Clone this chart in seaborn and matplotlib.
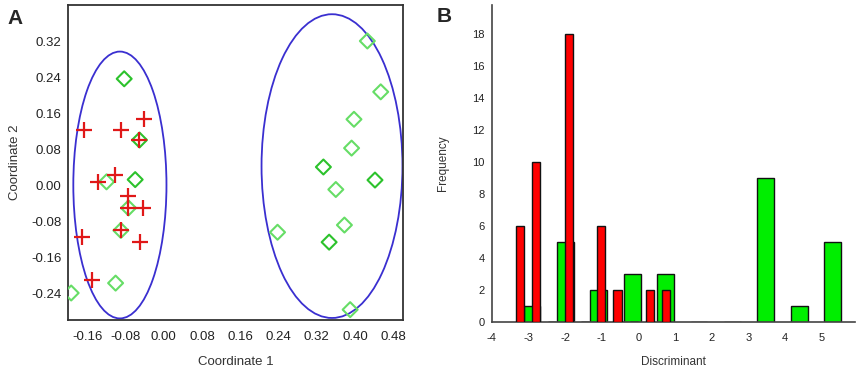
import numpy as np
import pandas as pd
import matplotlib
matplotlib.use("Agg")
import matplotlib.pyplot as plt
from matplotlib.patches import Ellipse
import seaborn as sns

# ---------------- Data: panel A (PCoA) ----------------
red_x = [-0.168, -0.090, -0.041, -0.051, -0.138, -0.102, -0.074, -0.074, -0.043, -0.090, -0.050, -0.172, -0.150]
red_y = [0.123, 0.123, 0.146, 0.100, 0.007, 0.022, -0.025, -0.051, -0.051, -0.101, -0.127, -0.115, -0.210]

green_x = [-0.083, -0.051, -0.060, -0.120, -0.074, -0.090, -0.101, -0.194,
           0.426, 0.454, 0.398, 0.393, 0.334, 0.442, 0.360, 0.378, 0.346, 0.238, 0.390]
green_y = [0.236, 0.100, 0.012, 0.007, -0.051, -0.101, -0.218, -0.240,
           0.320, 0.207, 0.146, 0.082, 0.040, 0.011, -0.010, -0.089, -0.127, -0.105, -0.277]
green_shade = ["dark", "dark", "dark", "light", "light", "light", "light", "light",
               "light", "light", "light", "light", "dark", "dark", "light", "light", "dark", "light", "light"]

# ellipses: centre x, centre y, width, height
ell_cx = [-0.092, 0.352]
ell_cy = [0.000, 0.042]
ell_w = [0.195, 0.295]
ell_h = [0.593, 0.675]

# ---------------- Data: panel B (discriminant histogram) ----------------
red_centers = [-3.23, -2.79, -1.89, -1.01, -0.57, 0.31, 0.76]
red_counts = [6, 10, 18, 6, 2, 2, 2]
green_centers = [-2.90, -1.99, -1.08, -0.17, 0.74, 3.48, 4.39, 5.30]
green_counts = [1, 5, 2, 3, 3, 9, 1, 5]
red_binwidth = 0.443
green_binwidth = 0.912

# ---------------- Figure ----------------
sns.set_style("white")
plt.rcParams['font.family'] = ['Liberation Sans', 'DejaVu Sans']
plt.rcParams['axes.unicode_minus'] = False

fig = plt.figure(figsize=(8.58, 3.68), dpi=100)
axA = fig.add_axes([68.3/858, (368-320)/368, (402.7-68.3)/858, (320-5)/368])
axB = fig.add_axes([491.7/858, (368-322.3)/368, (855-491.7)/858, (322.3-5)/368])

# Panel A
dfA_red = pd.DataFrame({"x": red_x, "y": red_y})
dfA_green = pd.DataFrame({"x": green_x, "y": green_y, "shade": green_shade})
for shade, col in (("light", "#66dd66"), ("dark", "#2cc22c")):
    sub = dfA_green[dfA_green["shade"] == shade]
    sns.scatterplot(data=sub, x="x", y="y", ax=axA, marker="D", s=58,
                    facecolors="none", edgecolor=col, linewidth=1.5, zorder=3)
sns.scatterplot(data=dfA_red, x="x", y="y", ax=axA, marker="+", s=140,
                color="#e01818", linewidth=1.6, zorder=4)
for cx, cy, w, h in zip(ell_cx, ell_cy, ell_w, ell_h):
    axA.add_patch(Ellipse((cx, cy), w, h, fill=False, edgecolor="#3a2fd0", linewidth=1.3, zorder=2))

axA.set_xlim(-0.20, 0.50)
axA.set_ylim(-0.30, 0.40)
xt = [-0.16, -0.08, 0.00, 0.08, 0.16, 0.24, 0.32, 0.40, 0.48]
yt = [-0.24, -0.16, -0.08, 0.00, 0.08, 0.16, 0.24, 0.32]
axA.set_xticks(xt)
axA.set_xticklabels([f"{v:.2f}" for v in xt])
axA.set_yticks(yt)
axA.set_yticklabels([f"{v:.2f}" for v in yt])
axA.tick_params(axis="both", direction="out", length=3, width=1, labelsize=9.5,
                colors="#222222", pad=2)
axA.tick_params(axis="x", pad=5)
for sp in axA.spines.values():
    sp.set_color("#333333")
    sp.set_linewidth(1.3)
axA.set_xlabel("Coordinate 1", fontsize=9.5, color="#333333", labelpad=9)
axA.set_ylabel("Coordinate 2", fontsize=9.5, color="#333333", labelpad=7)
fig.text(7/858, 1 - 19/368, "A", fontsize=15, fontweight="bold", va="center", ha="left")

# Panel B
dfB_green = pd.DataFrame({"x": green_centers, "w": green_counts})
dfB_red = pd.DataFrame({"x": red_centers, "w": red_counts})
sns.histplot(data=dfB_green, x="x", weights="w", binwidth=green_binwidth,
             binrange=(green_centers[0] - green_binwidth/2, green_centers[-1] + green_binwidth/2),
             shrink=0.5, color="#00ee00", alpha=1, edgecolor="#111111", linewidth=1.0,
             ax=axB, zorder=2)
sns.histplot(data=dfB_red, x="x", weights="w", binwidth=red_binwidth,
             binrange=(red_centers[0] - red_binwidth/2, red_centers[-1] + red_binwidth/2),
             shrink=0.5, color="#ff0000", alpha=1, edgecolor="#111111", linewidth=1.0,
             ax=axB, zorder=3)
axB.set_xlim(-4, 5.91)
axB.set_ylim(0, 19.8)
axB.set_xticks(range(-4, 6))
axB.set_yticks(range(0, 19, 2))
axB.tick_params(axis="both", direction="out", length=3, width=1, labelsize=8,
                colors="#222222", pad=2)
axB.tick_params(axis="x", pad=5)
axB.spines["top"].set_visible(False)
axB.spines["right"].set_visible(False)
for s in ("left", "bottom"):
    axB.spines[s].set_color("#444444")
    axB.spines[s].set_linewidth(1.2)
axB.set_xlabel("Discriminant", fontsize=8.5, color="#333333", labelpad=9)
axB.set_ylabel("Frequency", fontsize=8.5, color="#333333", labelpad=17)
fig.text(437/858, 1 - 16/368, "B", fontsize=15, fontweight="bold", va="center", ha="left")

fig.savefig("out.png", dpi=100)
